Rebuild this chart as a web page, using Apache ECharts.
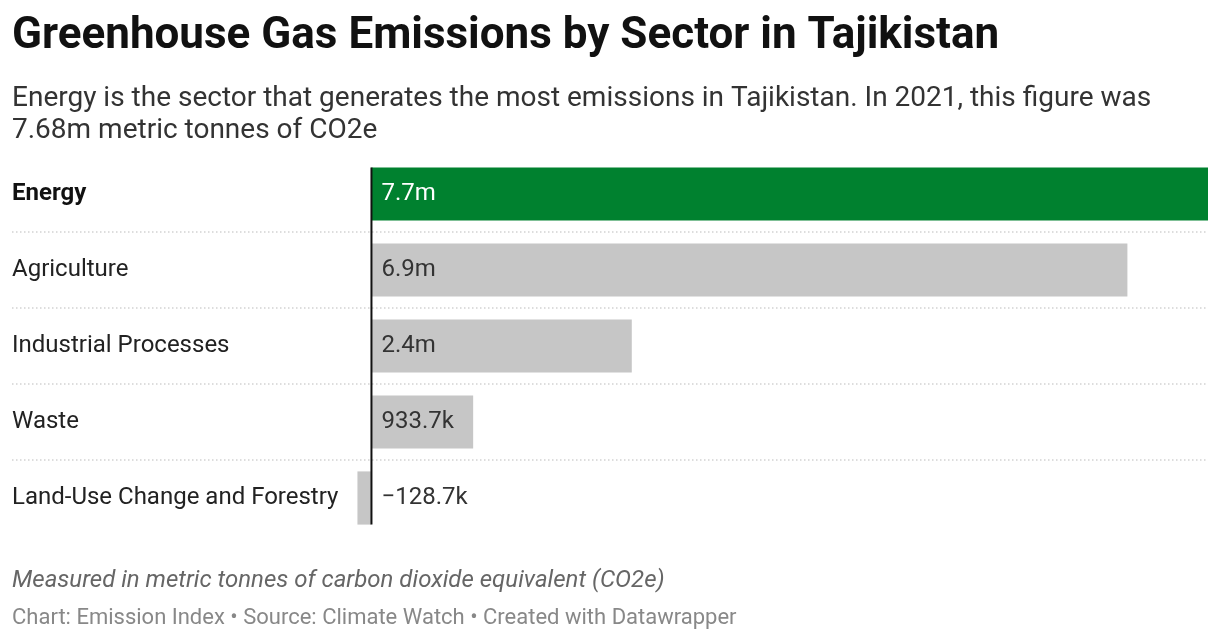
<!DOCTYPE html>
<html>
<head>
<meta charset="utf-8">
<script src="https://cdn.jsdelivr.net/npm/echarts@6/dist/echarts.min.js"></script>
<style>
  html, body { margin: 0; padding: 0; background: #fff; }
  #chart { width: 1220px; height: 640px; }
</style>
</head>
<body>
<div id="chart"></div>
<script>
// data
const sectors = ["Energy", "Agriculture", "Industrial Processes", "Waste", "Land-Use Change and Forestry"];
const emissions = [7680000, 6940000, 2390000, 933700, -128700];
const highlight = "Energy";

// value axis range, wide enough on the left to leave room for the row labels
const axisMin = -3300000;
const axisMax = 7680000;

function fmt(v) {
  const sign = v < 0 ? "\u2212" : "";
  const a = Math.abs(v);
  if (a >= 1e6) return sign + (a / 1e6).toFixed(1) + "m";
  return sign + (a / 1e3).toFixed(1) + "k";
}

const chart = echarts.init(document.getElementById("chart"));

const barData = emissions.map(function (v, i) {
  const isHi = sectors[i] === highlight;
  return {
    value: v,
    itemStyle: { color: isHi ? "#00812f" : "#c6c6c6" },
    label: {
      position: v < 0 ? "right" : "insideLeft",
      distance: 10,
      color: isHi ? "#fff" : "#333"
    }
  };
});

// separators between rows
const sepData = sectors.slice(0, -1).map(function (s, i) { return [0, i]; });

const option = {
  animation: false,
  textStyle: { fontFamily: "Roboto" },
  title: [
    {
      text: "Greenhouse Gas Emissions by Sector in Tajikistan",
      left: 12, top: 13, padding: 0,
      textStyle: { fontFamily: "Roboto", fontSize: 44, fontWeight: "bold", color: "#111", lineHeight: 48 }
    },
    {
      text: "Energy is the sector that generates the most emissions in Tajikistan. In 2021, this figure was\n7.68m metric tonnes of CO2e",
      left: 12, top: 83, padding: 0,
      textStyle: { fontFamily: "Roboto", fontSize: 28, fontWeight: "normal", color: "#333", lineHeight: 32 }
    },
    {
      text: "Measured in metric tonnes of carbon dioxide equivalent (CO2e)",
      left: 12, top: 567, padding: 0,
      textStyle: { fontFamily: "Roboto", fontSize: 24, fontStyle: "italic", fontWeight: "normal", color: "#666", lineHeight: 28 }
    },
    {
      text: "Chart: Emission Index \u2022 Source: Climate Watch \u2022 Created with Datawrapper",
      left: 12, top: 605, padding: 0,
      textStyle: { fontFamily: "Roboto", fontSize: 22, fontWeight: "normal", color: "#888", lineHeight: 26 }
    }
  ],
  grid: { left: 12, right: 12, top: 156, bottom: 104, containLabel: false },
  xAxis: {
    type: "value",
    min: axisMin,
    max: axisMax,
    show: false
  },
  yAxis: {
    type: "category",
    data: sectors,
    inverse: true,
    axisLine: { show: false, onZero: false },
    axisTick: { show: false },
    splitLine: { show: false },
    axisLabel: {
      inside: true,
      margin: 0,
      fontSize: 24,
      color: "#222",
      formatter: function (v) {
        return v === highlight ? "{b|" + v + "}" : "{n|" + v + "}";
      },
      rich: {
        b: { fontFamily: "Roboto", fontSize: 24, fontWeight: "bold", color: "#111" },
        n: { fontFamily: "Roboto", fontSize: 24, color: "#222" }
      }
    }
  },
  series: [
    {
      type: "custom",
      silent: true,
      z: 1,
      encode: { x: 0, y: 1 },
      data: sepData,
      renderItem: function (params, api) {
        const i = api.value(1);
        const band = api.size([0, 1])[1];
        const y = api.coord([0, i])[1] + band / 2;
        const cs = params.coordSys;
        return {
          type: "line",
          shape: { x1: cs.x, y1: y, x2: cs.x + cs.width, y2: y },
          style: { stroke: "#bbb", lineWidth: 1, lineDash: [1.5, 2.5] }
        };
      }
    },
    {
      type: "bar",
      z: 2,
      data: barData,
      barCategoryGap: "30%",
      label: {
        show: true,
        fontFamily: "Roboto",
        fontSize: 24,
        formatter: function (p) { return fmt(p.value); }
      }
    },
    {
      type: "custom",
      silent: true,
      z: 3,
      encode: { x: 0, y: 1 },
      data: [[0, 0]],
      renderItem: function (params, api) {
        const band = api.size([0, 1])[1];
        const half = band * 0.7 / 2;
        const top = api.coord([0, 0]);
        const bottom = api.coord([0, sectors.length - 1]);
        return {
          type: "line",
          shape: { x1: top[0], y1: top[1] - half, x2: bottom[0], y2: bottom[1] + half },
          style: { stroke: "#111", lineWidth: 2 }
        };
      }
    }
  ]
};

chart.setOption(option);
window.addEventListener("resize", function () { chart.resize(); });
</script>
</body>
</html>
